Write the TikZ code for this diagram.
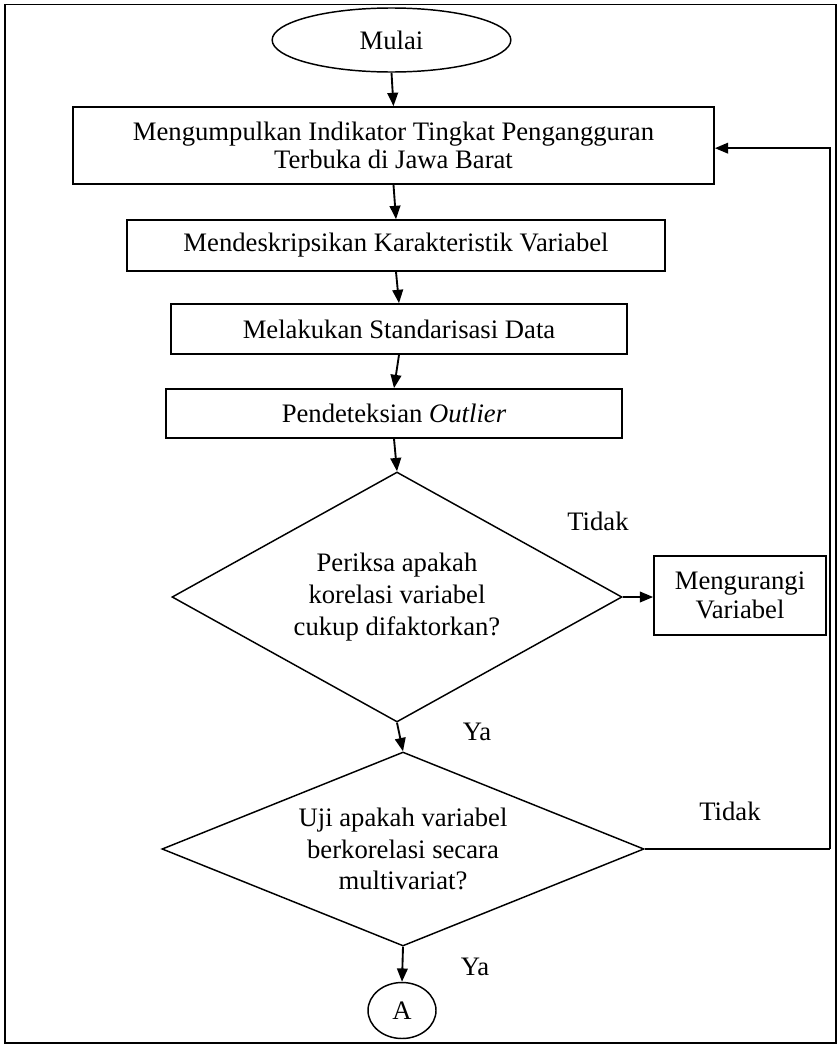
\documentclass[tikz,border=0pt]{standalone}
\usepackage{fontspec}
\setmainfont{Liberation Serif}
\usetikzlibrary{shapes.geometric,arrows.meta}
\begin{document}
\begin{tikzpicture}[x=0.75pt,y=-0.75pt,
  every node/.style={font=\fontsize{20}{22}\selectfont},
  procbox/.style={draw,line width=1.3pt,rectangle,inner sep=0pt,align=center},
  decbox/.style={draw,line width=1.1pt,diamond,inner sep=0pt,align=center},
  termbox/.style={draw,line width=1.1pt,ellipse,inner sep=0pt},
  flow/.style={line width=1.4pt,-{Triangle[length=10pt,width=8pt]}},
  thinline/.style={line width=0.8pt},
  lbl/.style={inner sep=0pt}]
\useasboundingbox (0,0) rectangle (839,1046);
\draw[line width=1pt] (5,4.5) rectangle (836,1043);

\node[termbox,minimum width=179pt,minimum height=48pt] (start) at (391.5,40) {Mulai};
\node[procbox,minimum width=480.75pt,minimum height=57.75pt,font=\fontsize{20}{21}\selectfont] (b1) at (393.5,145.5) {Mengumpulkan Indikator Tingkat Pengangguran\\Terbuka di Jawa Barat};
\node[procbox,minimum width=403.5pt,minimum height=38.25pt] (b2) at (396,245.5) {Mendeskripsikan Karakteristik Variabel};
\node[procbox,minimum width=342pt,minimum height=37.5pt] (b3) at (399,329) {Melakukan Standarisasi Data};
\node[procbox,minimum width=342pt,minimum height=36.75pt] (b4) at (394,413.5) {Pendeteksian \textit{Outlier}};
\node[decbox,aspect=1.8,minimum width=337.5pt,minimum height=187.5pt,font=\fontsize{20}{24}\selectfont] (d1) at (397,597) {Periksa apakah\\korelasi variabel\\cukup difaktorkan?};
\node[procbox,minimum width=129pt,minimum height=59.25pt] (red) at (740,595.5) {Mengurangi\\Variabel};
\node[decbox,aspect=2.48,minimum width=361.5pt,minimum height=145.5pt,font=\fontsize{20}{23.5}\selectfont] (d2) at (403,849) {Uji apakah variabel\\berkorelasi secara\\multivariat?};
\node[termbox,minimum width=51pt,minimum height=42pt] (A) at (402,1010.5) {A};

\node[lbl] (t1) at (598,521) {Tidak};
\node[lbl] (y1) at (477,732) {Ya};
\node[lbl] (t2) at (730,811) {Tidak};
\node[lbl] (y2) at (475,967) {Ya};

\draw[flow] (start.south) -- (b1.north);
\draw[flow] (b1.south) -- (b2.north);
\draw[flow] (b2.south) -- (b3.north);
\draw[flow] (b3.south) -- (b4.north);
\draw[flow] (b4.south) -- (d1.north);
\draw[flow] (d1.east) -- (red.west |- d1.east);
\draw[flow] (d1.south) -- (d2.north);
\draw[flow] (d2.south) -- (A.north);
\coordinate (lp) at (830,849);
\draw[thinline] (d2.east) -- (lp);
\draw[flow] (lp) |- ([yshift=-2pt]b1.east);
\end{tikzpicture}
\end{document}
